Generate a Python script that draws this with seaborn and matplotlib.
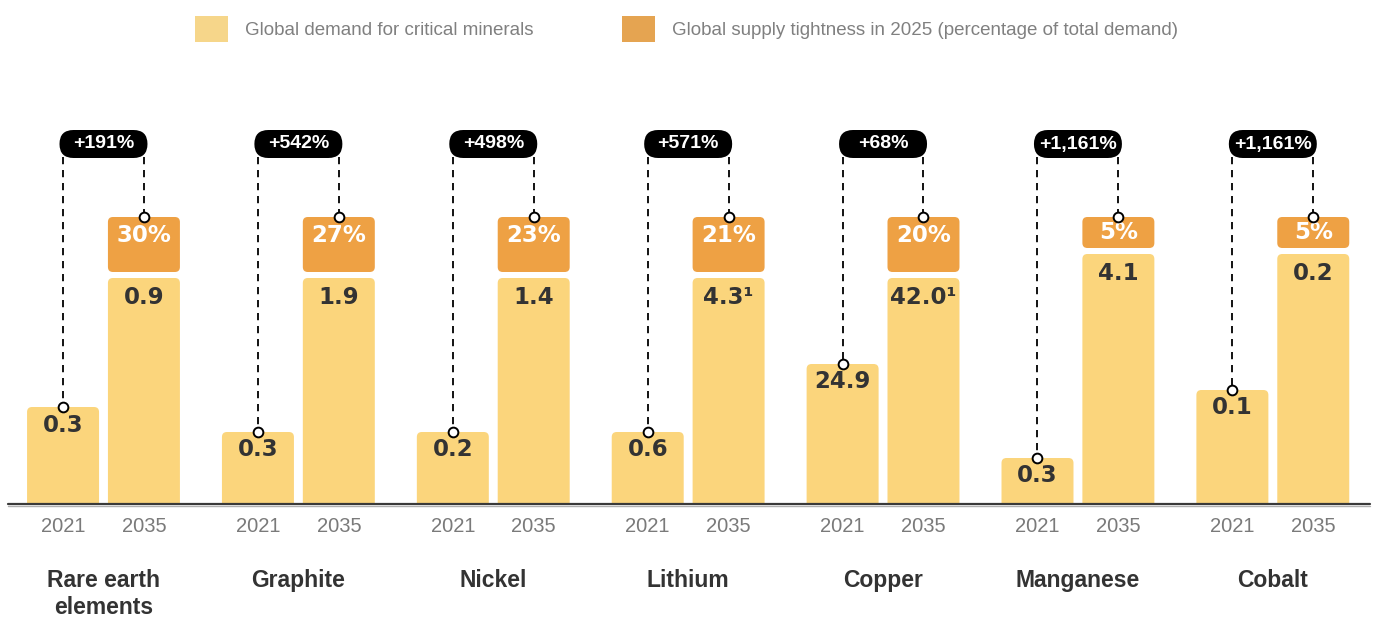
import matplotlib
matplotlib.use("Agg")
import matplotlib.pyplot as plt
from matplotlib.patches import FancyBboxPatch, Rectangle, Patch
import seaborn as sns
import pandas as pd

# ---------------- data ----------------
minerals = ["Rare earth\nelements", "Graphite", "Nickel", "Lithium", "Copper", "Manganese", "Cobalt"]
years = ["2021", "2035"]
demand_2021_labels = ["0.3", "0.3", "0.2", "0.6", "24.9", "0.3", "0.1"]
demand_2035_labels = ["0.9", "1.9", "1.4", "4.3\u00b9", "42.0\u00b9", "4.1", "0.2"]
growth_labels = ["+191%", "+542%", "+498%", "+571%", "+68%", "+1,161%", "+1,161%"]
tightness_labels = ["30%", "27%", "23%", "21%", "20%", "5%", "5%"]
# stylised (non-proportional) bar heights as drawn in the original
bar_h_2021 = [97, 72, 72, 72, 140, 46, 114]
bar_h_2035 = [226, 226, 226, 226, 226, 250, 250]
tight_box_h = [55, 55, 55, 55, 55, 31, 31]
legend_labels = ["Global demand for critical minerals",
                 "Global supply tightness in 2025 (percentage of total demand)"]

YELLOW = "#FBD57C"
ORANGE = "#EEA144"
DARK = "#333333"
GRAY = "#7a7a7a"

sns.set_theme(style="white")
plt.rcParams["font.family"] = ["Liberation Sans", "DejaVu Sans"]
VALFONT = ["DejaVu Sans"]

df = pd.DataFrame({
    "mineral": minerals * 2,
    "year": [years[0]] * len(minerals) + [years[1]] * len(minerals),
    "height": bar_h_2021 + bar_h_2035,
})

fig = plt.figure(figsize=(13.73, 6.19), dpi=100)
ax = fig.add_axes([0, 0, 1, 1])
sns.barplot(data=df, x="mineral", y="height", hue="year", hue_order=years,
            order=minerals, palette=[YELLOW, YELLOW], width=0.83, gap=0.11,
            errorbar=None, linewidth=0, legend=False, ax=ax)

ax.set_xlim(-0.531, 6.514)
ax.set_ylim(-115, 504)
ax.axis("off")

p0 = ax.transData.transform((0, 0))
p1 = ax.transData.transform((1, 1))
asp = (p1[0] - p0[0]) / (p1[1] - p0[1])  # data-y per data-x for equal pixels
px_x = p1[0] - p0[0]

# collect bars in x order, then replace with rounded versions
bars = sorted([p for p in ax.patches if isinstance(p, Rectangle)],
              key=lambda p: p.get_x())
info = []
for p in bars:
    info.append((p.get_x(), p.get_width(), p.get_height()))
    p.remove()

clip = Rectangle((-1, 0), 10, 1000, transform=ax.transData)
r_bar = 5 / asp
for (x, w, h) in info:
    fb = FancyBboxPatch((x, -8), w, h + 8,
                        boxstyle=f"round,pad=0,rounding_size={r_bar}",
                        mutation_aspect=asp, facecolor=YELLOW, edgecolor="none",
                        zorder=2)
    ax.add_patch(fb)
    fb.set_clip_path(clip)

b2021 = info[0::2]
b2035 = info[1::2]

# baseline
ax.axhline(0, xmin=0.006, xmax=0.998, color="#3a3a3a", lw=1.6, zorder=3)
ax.axhline(-1.6, xmin=0.006, xmax=0.998, color="#b0b0b0", lw=1.0, zorder=3)

for i in range(len(minerals)):
    x1, w1, h1 = b2021[i]
    x2, w2, h2 = b2035[i]
    c1 = x1 + w1 / 2
    c2 = x2 + w2 / 2
    gc = (c1 + c2) / 2

    # orange tightness box
    ob = h2 + 6
    oh = tight_box_h[i]
    ax.add_patch(FancyBboxPatch((x2, ob), w2, oh,
                                boxstyle=f"round,pad=0,rounding_size={r_bar}",
                                mutation_aspect=asp, facecolor=ORANGE,
                                edgecolor="none", zorder=2))
    otop = ob + oh
    ax.text(c2, otop - min(19, oh / 2), tightness_labels[i], ha="center",
            va="center", color="white", fontsize=16.5, fontweight="bold",
            family=VALFONT, zorder=5)

    # value labels
    ax.text(c1, h1 - 18, demand_2021_labels[i], ha="center", va="center",
            color=DARK, fontsize=16.5, fontweight="bold", family=VALFONT, zorder=5)
    ax.text(c2, h2 - 19, demand_2035_labels[i], ha="center", va="center",
            color=DARK, fontsize=16.5, fontweight="bold", family=VALFONT, zorder=5)

    # growth pill + dashed connectors
    py = 360
    ax.plot([c1, c1], [py, h1], color="black", lw=1.3,
            linestyle=(0, (4.0, 3.2)), zorder=4)
    ax.plot([c2, c2], [py, otop], color="black", lw=1.3,
            linestyle=(0, (4.0, 3.2)), zorder=4)
    ax.plot([c1, c2], [h1, otop], linestyle="none", marker="o", markersize=7,
            markerfacecolor="white", markeredgecolor="black",
            markeredgewidth=1.4, zorder=6)
    pw = 88 / px_x
    ax.add_patch(FancyBboxPatch((gc - pw / 2, py - 14), pw, 28,
                                boxstyle=f"round,pad=0,rounding_size={14 / asp}",
                                mutation_aspect=asp, facecolor="black",
                                edgecolor="none", zorder=7))
    ax.text(gc, py, growth_labels[i], ha="center", va="center", color="white",
            fontsize=14, fontweight="bold", zorder=8)

    # year + mineral labels
    ax.text(c1, -23, years[0], ha="center", va="center", color=GRAY, fontsize=14.5)
    ax.text(c2, -23, years[1], ha="center", va="center", color=GRAY, fontsize=14.5)
    ax.text(gc, -65, minerals[i], ha="center", va="top", color=DARK,
            fontsize=16.5, fontweight="bold", linespacing=1.2)

# legend
handles = [Patch(facecolor="#F6D68A", edgecolor="none"),
           Patch(facecolor="#E5A451", edgecolor="none")]
leg = ax.legend(handles, legend_labels, loc="center", ncol=2,
                bbox_to_anchor=(0.5, 0.953), bbox_transform=fig.transFigure,
                frameon=False, fontsize=13.5, handlelength=1.76,
                handleheight=1.76, handletextpad=0.9, columnspacing=4.7)
for t in leg.get_texts():
    t.set_color("#808080")

fig.savefig("out.png", dpi=100)
